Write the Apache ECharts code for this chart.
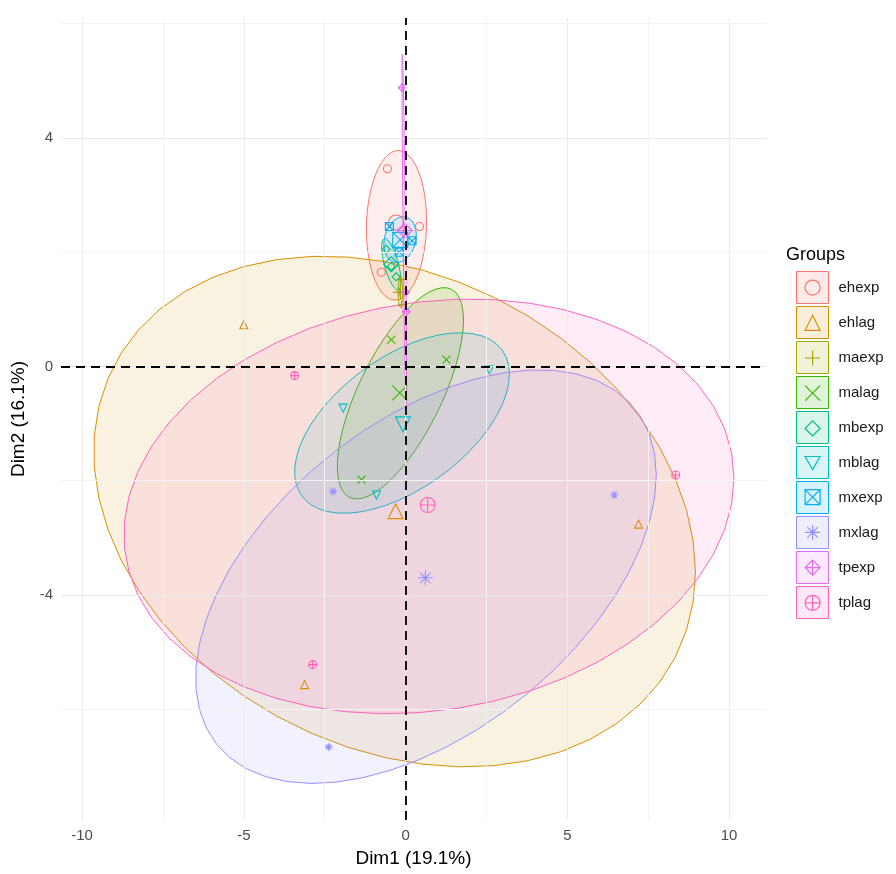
<!DOCTYPE html>
<html><head><meta charset="utf-8">
<script src="https://cdn.jsdelivr.net/npm/echarts@6/dist/echarts.min.js"></script>
<style>html,body{margin:0;padding:0;background:#fff}#c{width:896px;height:874px}</style>
</head><body><div id="c"></div>
<script>
// ---- data ----
const groups = ['ehexp','ehlag','maexp','malag','mbexp','mblag','mxexp','mxlag','tpexp','tplag'];
const colors = ['#F8766D','#D89000','#A3A500','#39B600','#00BF7D','#00BFC4','#00B0F6','#9590FF','#E76BF3','#FF62BC'];
// individual coordinates (Dim1, Dim2) per group
const ptX = [
  [-0.56, 0.43, -0.75],
  [-5.0, -3.12, 7.2],
  [-0.15, -0.2, -0.12],
  [-0.44, 1.26, -1.36],
  [-0.6, -0.44, -0.29],
  [-1.93, -0.9, 2.59],
  [-0.5, 0.2, -0.2],
  [-2.38, 6.45, -2.24],
  [-0.1, 0.0, 0.02],
  [-3.43, -2.87, 8.35]
];
const ptY = [
  [3.46, 2.45, 1.65],
  [0.73, -5.57, -2.76],
  [1.52, 1.3, 1.08],
  [0.47, 0.12, -1.98],
  [2.05, 1.75, 1.57],
  [-0.73, -2.25, -0.06],
  [2.45, 2.2, 2.0],
  [-6.66, -2.25, -2.19],
  [4.88, 1.3, 0.96],
  [-0.16, -5.22, -1.9]
];
// ellipse read-offs: centre, half width, half height, x-shift of topmost point
const ellCx    = [-0.28, -0.34, -0.16, -0.16, -0.44, -0.11, -0.17, 0.63, -0.04, 0.72];
const ellCy    = [2.47, -2.54, 1.3, -0.47, 1.79, -0.99, 2.22, -3.68, 2.38, -2.45];
const ellHalfW = [0.93, 9.3, 0.07, 1.95, 0.3, 3.32, 0.5, 7.12, 0.07, 9.43];
const ellHalfH = [1.31, 4.47, 0.26, 1.85, 0.45, 1.58, 0.4, 3.62, 3.08, 3.63];
const ellShift = [0.05, -2.2, 0.0, 1.35, -0.2, 1.8, 0.1, 3.5, -0.06, 1.28];
const xTicks = [-10, -5, 0, 5, 10];
const yTicks = [-4, 0, 4];
const xMinor = [-7.5, -2.5, 2.5, 7.5];
const yMinor = [-6, -2, 2, 6];
const xRange = [-10.65, 11.14];
const yRange = [-7.94, 6.1];
const xTitle = 'Dim1 (19.1%)';
const yTitle = 'Dim2 (16.1%)';
const legendTitle = 'Groups';

// ---- styling ----
const FONT = '"Liberation Sans", Arial, sans-serif';
const shapes = [
  'circle',
  'triangle',
  'path://M5 0 L5 10 M0 5 L10 5',
  'path://M0 0 L10 10 M10 0 L0 10',
  'diamond',
  'path://M0 0 L10 0 L5 8.66 Z',
  'path://M0 0 L10 0 L10 10 L0 10 Z M0 0 L10 10 M10 0 L0 10',
  'path://M5 0 L5 10 M0 5 L10 5 M1.5 1.5 L8.5 8.5 M8.5 1.5 L1.5 8.5',
  'path://M5 0 L10 5 L5 10 L0 5 Z M5 0 L5 10 M0 5 L10 5',
  'path://M0 5 A5 5 0 1 1 10 5 A5 5 0 1 1 0 5 Z M5 0 L5 10 M0 5 L10 5'
];
function rgba(hex, a) {
  const n = parseInt(hex.slice(1), 16);
  return 'rgba(' + (n >> 16 & 255) + ',' + (n >> 8 & 255) + ',' + (n & 255) + ',' + a + ')';
}

const series = [];
// gridlines
series.push({
  type: 'scatter', name: '_grid', data: [], z: 0, silent: true,
  markLine: {
    silent: true, symbol: 'none', label: {show: false}, animation: false,
    lineStyle: {color: '#EBEBEB', width: 1, type: 'solid'},
    data: xTicks.map(v => ({xAxis: v})).concat(yTicks.map(v => ({yAxis: v})))
      .concat(xMinor.map(v => ({xAxis: v, lineStyle: {color: '#F3F3F3', width: 1}})))
      .concat(yMinor.map(v => ({yAxis: v, lineStyle: {color: '#F3F3F3', width: 1}})))
  }
});
// ellipses
groups.forEach((g, i) => {
  series.push({
    type: 'custom', name: g, z: 2, silent: true, animation: false, clip: true,
    data: [[ellCx[i], ellCy[i], ellHalfW[i], ellHalfH[i], ellShift[i]]],
    encode: {x: 0, y: 1},
    renderItem: function (params, api) {
      const cx = api.value(0), cy = api.value(1), w = api.value(2), h = api.value(3), s = api.value(4);
      const l21 = s * h / w;
      const l22 = Math.sqrt(Math.max(h * h - l21 * l21, 0));
      const pts = [];
      for (let k = 0; k <= 51; k++) {
        const t = 2 * Math.PI * k / 51;
        pts.push(api.coord([cx + w * Math.cos(t), cy + l21 * Math.cos(t) + l22 * Math.sin(t)]));
      }
      return {type: 'polygon', shape: {points: pts},
        style: {fill: rgba(colors[i], 0.12), stroke: colors[i], lineWidth: 1}};
    }
  });
});
// points + group means
groups.forEach((g, i) => {
  const pts = ptX[i].map((x, k) => ({value: [x, ptY[i][k]], symbolSize: 8}));
  const mx = ptX[i].reduce((a, b) => a + b, 0) / ptX[i].length;
  const my = ptY[i].reduce((a, b) => a + b, 0) / ptY[i].length;
  pts.push({value: [mx, my], symbolSize: 15});
  series.push({
    type: 'scatter', name: g, z: 3, symbol: shapes[i], animation: false,
    itemStyle: {color: 'rgba(0,0,0,0)', borderColor: colors[i], borderWidth: 1.1, opacity: 1},
    emphasis: {disabled: true},
    data: pts
  });
});
// dashed reference lines
series.push({
  type: 'scatter', name: '_ref', data: [], z: 5, silent: true,
  markLine: {
    silent: true, symbol: 'none', label: {show: false}, animation: false,
    lineStyle: {color: '#000', width: 1.8, type: [9, 6]},
    data: [{xAxis: 0}, {yAxis: 0}]
  }
});

const legendA = {
  orient: 'vertical', left: 791, top: 266, itemWidth: 32, itemHeight: 32, itemGap: 2,
  selectedMode: false,
  textStyle: {fontFamily: FONT, fontSize: 15, color: '#1a1a1a', padding: [0, 0, 0, 5]},
  data: groups.map((g, i) => ({name: g, icon: 'rect',
    itemStyle: {color: rgba(colors[i], 0.15), borderColor: colors[i], borderWidth: 1}}))
};
const legendB = {
  orient: 'vertical', left: 799.5, top: 274.5, itemWidth: 15, itemHeight: 15, itemGap: 19,
  selectedMode: false, formatter: function () { return ''; },
  textStyle: {fontSize: 8},
  data: groups.map((g, i) => ({name: g, icon: shapes[i],
    itemStyle: {color: 'rgba(0,0,0,0)', borderColor: colors[i], borderWidth: 1.2}}))
};

const option = {
  backgroundColor: '#fff',
  animation: false,
  title: {text: legendTitle, left: 781, top: 241,
    textStyle: {fontFamily: FONT, fontSize: 18, fontWeight: 'normal', color: '#000'}},
  legend: [legendA, legendB],
  grid: {left: 61, right: 130, top: 18, bottom: 54, containLabel: false},
  xAxis: {
    type: 'value', min: xRange[0], max: xRange[1],
    name: xTitle, nameLocation: 'middle', nameGap: 29,
    nameTextStyle: {fontFamily: FONT, fontSize: 19, color: '#000'},
    axisLine: {show: false},
    axisTick: {show: true, customValues: xTicks, length: 5, lineStyle: {color: '#333', width: 1}},
    axisLabel: {show: true, customValues: xTicks, margin: 8, fontFamily: FONT, fontSize: 15, color: '#4D4D4D'},
    splitLine: {show: false}
  },
  yAxis: {
    type: 'value', min: yRange[0], max: yRange[1],
    name: yTitle, nameLocation: 'middle', nameGap: 30, nameRotate: 90,
    nameTextStyle: {fontFamily: FONT, fontSize: 19, color: '#000'},
    axisLine: {show: false},
    axisTick: {show: true, customValues: yTicks, length: 5, lineStyle: {color: '#333', width: 1}},
    axisLabel: {show: true, customValues: yTicks, margin: 8, fontFamily: FONT, fontSize: 15, color: '#4D4D4D'},
    splitLine: {show: false}
  },
  series: series
};
const chart = echarts.init(document.getElementById('c'), null, {renderer: 'canvas'});
chart.setOption(option);
</script></body></html>
